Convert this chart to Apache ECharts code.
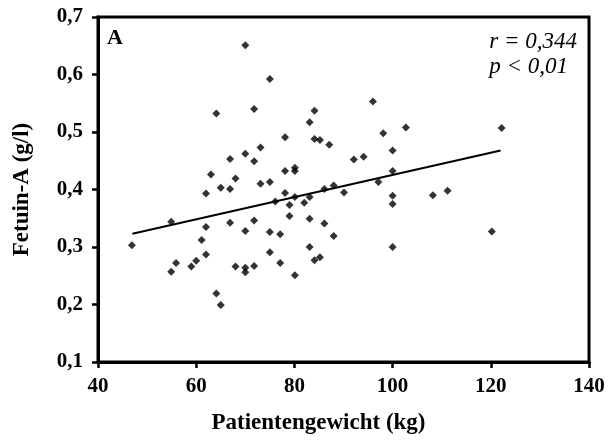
<!DOCTYPE html>
<html>
<head>
<meta charset="utf-8" />
<script src="https://cdn.jsdelivr.net/npm/echarts@6/dist/echarts.min.js"></script>
<style>
  html, body { margin: 0; padding: 0; background: #fff; }
  #chart { width: 610px; height: 443px; }
</style>
</head>
<body>
<div id="chart"></div>
<script>
// patient weight (kg) and fetuin-A (g/l)
const weights = [
  70.0, 75.0, 64.1, 71.8, 83.1, 84.1, 78.1, 84.1, 85.2, 87.1,
  73.1, 70.0, 66.9, 71.8, 78.1, 80.1, 80.1, 63.0, 68.0, 73.1,
  75.0, 65.0, 66.9, 62.0, 78.1, 80.1, 83.1, 86.1, 88.0, 90.1,
  76.1, 79.0, 82.0, 54.9, 46.9, 62.0, 66.9, 71.8, 79.0, 83.1,
  86.1, 70.0, 75.0, 77.1, 88.0, 61.1, 62.0, 75.0, 83.1, 54.9,
  55.9, 59.0, 60.0, 68.0, 70.0, 70.0, 71.8, 77.1, 80.1, 84.1,
  85.2, 64.1, 65.0, 96.0, 102.7, 122.2, 98.1, 100.0, 92.1, 94.1,
  100.0, 97.1, 100.0, 108.2, 111.2, 100.0, 100.0, 120.2
];
const fetuin = [
  0.651, 0.592, 0.532, 0.540, 0.517, 0.537, 0.491, 0.488, 0.486, 0.478,
  0.473, 0.462, 0.453, 0.449, 0.432, 0.432, 0.438, 0.426, 0.419, 0.410,
  0.413, 0.403, 0.401, 0.393, 0.394, 0.387, 0.387, 0.401, 0.407, 0.395,
  0.379, 0.373, 0.377, 0.344, 0.303, 0.335, 0.342, 0.346, 0.354, 0.349,
  0.341, 0.328, 0.326, 0.322, 0.319, 0.312, 0.287, 0.291, 0.300, 0.257,
  0.272, 0.266, 0.276, 0.266, 0.264, 0.256, 0.267, 0.272, 0.251, 0.277,
  0.282, 0.219, 0.199, 0.553, 0.508, 0.507, 0.498, 0.468, 0.452, 0.457,
  0.432, 0.413, 0.389, 0.390, 0.398, 0.375, 0.300, 0.327
];

// regression line end points
const trendX = [47, 122];
const trendY = [0.323, 0.468];

const xTicks = [40, 60, 80, 100, 120, 140];
const yTicks = [0.1, 0.2, 0.3, 0.4, 0.5, 0.6, 0.7];

const serif = '"Liberation Serif", "DejaVu Serif", serif';
const comma = v => v.toFixed(1).replace('.', ',');

const chart = echarts.init(document.getElementById('chart'));

chart.setOption({
  animation: false,
  grid: {
    left: 98, right: 21, top: 17, bottom: 81,
    show: true, borderColor: '#000', borderWidth: 3, backgroundColor: 'transparent'
  },
  xAxis: {
    type: 'value',
    min: xTicks[0], max: xTicks[xTicks.length - 1], interval: 20,
    name: 'Patientengewicht (kg)',
    nameLocation: 'middle', nameGap: 50,
    nameTextStyle: { fontFamily: serif, fontWeight: 'bold', fontSize: 23, color: '#000', padding: [0, 50, 0, 0] },
    axisLine: { show: true, lineStyle: { color: '#000', width: 3 } },
    axisTick: { show: true, inside: false, length: 6, lineStyle: { color: '#000', width: 2.5 } },
    axisLabel: { fontFamily: serif, fontWeight: 'bold', fontSize: 21, color: '#000', margin: 14 },
    splitLine: { show: false }
  },
  yAxis: {
    type: 'value',
    min: yTicks[0], max: yTicks[yTicks.length - 1], interval: 0.1,
    name: 'Fetuin-A (g/l)',
    nameLocation: 'middle', nameGap: 64, nameRotate: 90,
    nameTextStyle: { fontFamily: serif, fontWeight: 'bold', fontSize: 23, color: '#000' },
    axisLine: { show: true, lineStyle: { color: '#000', width: 3 } },
    axisTick: { show: true, inside: false, length: 6, lineStyle: { color: '#000', width: 2.5 } },
    axisLabel: { fontFamily: serif, fontWeight: 'bold', fontSize: 21, color: '#000', margin: 15, formatter: comma },
    splitLine: { show: false }
  },
  series: [
    {
      type: 'scatter',
      data: weights.map((w, i) => [w, fetuin[i]]),
      symbol: 'diamond',
      symbolSize: 8,
      itemStyle: { color: '#000' }
    },
    {
      type: 'line',
      data: trendX.map((x, i) => [x, trendY[i]]),
      symbol: 'none',
      lineStyle: { color: '#000', width: 2 }
    }
  ],
  graphic: [
    {
      type: 'text', left: 107, top: 27,
      style: { text: 'A', font: 'bold 22px ' + serif, fill: '#000' }
    },
    {
      type: 'text', right: 33, top: 29,
      style: { text: 'r = 0,344\np < 0,01', font: 'italic 23px ' + serif, fill: '#000', align: 'right', lineHeight: 25 }
    }
  ]
});
</script>
</body>
</html>
